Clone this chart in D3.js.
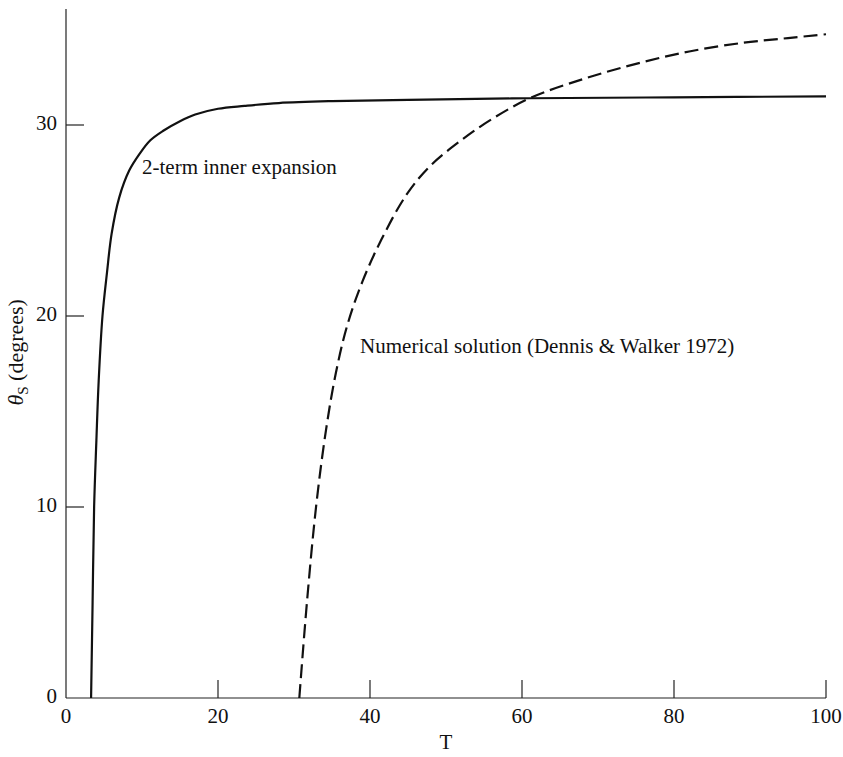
<!DOCTYPE html>
<html>
<head>
<meta charset="utf-8">
<script src="https://cdn.jsdelivr.net/npm/d3@7"></script>
<style>
  body { margin: 0; background: #fff; }
  text { font-family: "Liberation Serif", "Times New Roman", serif; fill: #111; }
</style>
</head>
<body>
<svg id="chart" width="843" height="757"></svg>
<script>
// 2-term inner expansion (solid)
var innerT     = [3.3, 3.5, 3.7, 4.0, 4.3, 4.8, 5.4, 6.0, 7.0, 8.3, 9.7, 11.1, 12.8, 15, 17, 20, 23.5, 28, 35, 45, 61, 80, 100];
var innerTheta = [0, 5, 10, 13.5, 16.6, 20, 22.3, 24.3, 26.2, 27.6, 28.5, 29.2, 29.7, 30.2, 30.55, 30.85, 31.0, 31.15, 31.25, 31.32, 31.4, 31.45, 31.5];

// numerical solution, Dennis & Walker 1972 (dashed)
var numT     = [30.7, 31.7, 32.9, 34.2, 35.5, 37, 39, 41.5, 44.8, 47.9, 52, 56, 61, 68, 75, 82, 89, 95, 100];
var numTheta = [0, 5, 10, 14, 17, 19.5, 21.8, 24, 26.35, 27.85, 29.2, 30.3, 31.4, 32.4, 33.2, 33.85, 34.3, 34.55, 34.75];

var xTicks = [20, 40, 60, 80, 100];
var yTicks = [10, 20, 30];
var xTickLabels = ["0", "20", "40", "60", "80", "100"];
var yTickLabels = ["0", "10", "20", "30"];

var svg = d3.select("#chart");
var margin = {left: 66, right: 17, top: 9, bottom: 59};
var width = 843 - margin.left - margin.right;
var height = 757 - margin.top - margin.bottom;

var x = d3.scaleLinear().domain([0, 100]).range([0, width]);
var y = d3.scaleLinear().domain([0, 30]).range([height, height - 573]);

var g = svg.append("g")
    .attr("transform", "translate(" + margin.left + "," + margin.top + ")");

// axes lines
g.append("line")
    .attr("x1", 0).attr("x2", 0)
    .attr("y1", 0).attr("y2", height)
    .attr("stroke", "#222").attr("stroke-width", 1.2);
g.append("line")
    .attr("x1", 0).attr("x2", width)
    .attr("y1", height).attr("y2", height)
    .attr("stroke", "#222").attr("stroke-width", 1.2);

// inward ticks
g.selectAll(".xtick").data(xTicks).enter().append("line")
    .attr("x1", x).attr("x2", x)
    .attr("y1", height).attr("y2", height - 18)
    .attr("stroke", "#222").attr("stroke-width", 1.2);
g.selectAll(".ytick").data(yTicks).enter().append("line")
    .attr("x1", 0).attr("x2", 18)
    .attr("y1", y).attr("y2", y)
    .attr("stroke", "#222").attr("stroke-width", 1.2);

// tick labels
g.selectAll(".xlab").data(xTickLabels).enter().append("text")
    .attr("x", function(d) { return x(+d); })
    .attr("y", height + 25)
    .style("font-size", "21px")
    .style("text-anchor", "middle")
    .text(function(d) { return d; });
g.selectAll(".ylab").data(yTickLabels).enter().append("text")
    .attr("x", -9)
    .attr("y", function(d) { return y(+d) + 5; })
    .style("font-size", "21px")
    .style("text-anchor", "end")
    .text(function(d) { return d; });

// axis titles
g.append("text")
    .attr("x", x(50))
    .attr("y", height + 51)
    .style("font-size", "21px")
    .style("text-anchor", "middle")
    .text("T");

var ylab = g.append("text")
    .attr("transform", "translate(-43," + (y(18.1)) + ") rotate(-90)")
    .style("font-size", "22px")
    .style("text-anchor", "middle");
ylab.append("tspan").style("font-style", "italic").text("θ");
ylab.append("tspan").attr("dy", 5).style("font-size", "15px").text("S");
ylab.append("tspan").attr("dy", -5).text(" (degrees)");

// curves
var line = d3.line()
    .x(function(d) { return x(d[0]); })
    .y(function(d) { return y(d[1]); })
    .curve(d3.curveCatmullRom.alpha(0.5));

g.append("path")
    .datum(d3.zip(innerT, innerTheta))
    .attr("d", line)
    .attr("fill", "none")
    .attr("stroke", "#111")
    .attr("stroke-width", 2.2);

g.append("path")
    .datum(d3.zip(numT, numTheta))
    .attr("d", line)
    .attr("fill", "none")
    .attr("stroke", "#111")
    .attr("stroke-width", 2.2)
    .attr("stroke-dasharray", "14,6");

// curve labels
g.append("text")
    .attr("x", x(10))
    .attr("y", y(27.45))
    .style("font-size", "21px")
    .text("2-term inner expansion");

g.append("text")
    .attr("x", x(38.7))
    .attr("y", y(18.05))
    .style("font-size", "21px")
    .text("Numerical solution (Dennis & Walker 1972)");
</script>
</body>
</html>
